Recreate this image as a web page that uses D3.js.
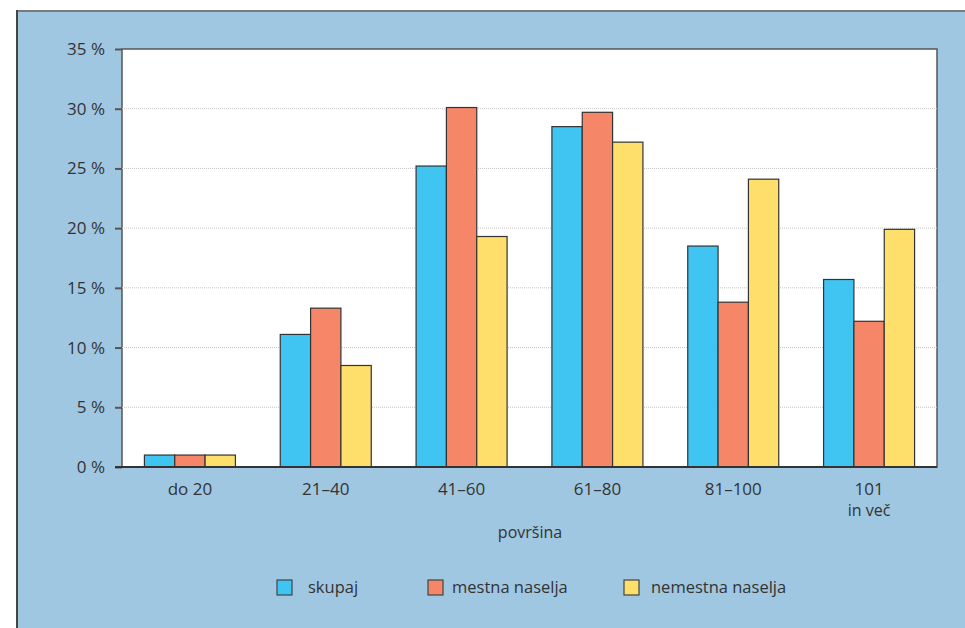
<!DOCTYPE html>
<html>
<head>
<meta charset="utf-8">
<script src="https://cdn.jsdelivr.net/npm/d3@7"></script>
<style>
  body { margin: 0; background: #fff; }
  svg { display: block; }
</style>
</head>
<body>
<div class="chart"></div>
<script>
const categories = ["do 20", "21–40", "41–60", "61–80", "81–100", "101|in več"];
const seriesNames = ["skupaj", "mestna naselja", "nemestna naselja"];
const skupaj = [1.0, 11.1, 25.2, 28.5, 18.5, 15.7];
const mestna = [1.0, 13.3, 30.1, 29.7, 13.8, 12.2];
const nemestna = [1.0, 8.5, 19.3, 27.2, 24.1, 19.9];
const yTicks = [0, 5, 10, 15, 20, 25, 30, 35];

const width = 965,
  height = 628,
  plotLeft = 122,
  plotRight = 937,
  plotTop = 49,
  plotBottom = 467,
  panelColor = "#a0c7e1",
  colors = ["#40c5f2", "#f58668", "#fedf6b"],
  font = "'Open Sans', sans-serif";

const svg = d3
  .select(".chart")
  .append("svg")
  .attr("width", width)
  .attr("height", height);

// blue panel
svg.append("rect")
  .attr("x", 17).attr("y", 11)
  .attr("width", width - 17).attr("height", height - 11)
  .attr("fill", panelColor);
svg.append("line")
  .attr("x1", 17).attr("x2", width).attr("y1", 11).attr("y2", 11)
  .attr("stroke", "#7a7a7a").attr("stroke-width", 2);
svg.append("line")
  .attr("x1", 17).attr("x2", 17).attr("y1", 10).attr("y2", height)
  .attr("stroke", "#444").attr("stroke-width", 2);

// plot background
svg.append("rect")
  .attr("x", plotLeft).attr("y", plotTop)
  .attr("width", plotRight - plotLeft).attr("height", plotBottom - plotTop)
  .attr("fill", "#fff")
  .attr("stroke", "#555").attr("stroke-width", 1.5);

const yScale = d3.scaleLinear().domain([0, 35]).range([plotBottom, plotTop]);

const xScale = d3.scaleBand()
  .domain(categories)
  .range([plotLeft, plotRight])
  .paddingInner(0.33)
  .paddingOuter(0.165);

const xInner = d3.scaleBand()
  .domain(seriesNames)
  .range([0, xScale.bandwidth()]);

// gridlines
svg.append("g")
  .selectAll("line")
  .data(yTicks.filter((d) => d > 0 && d < 35))
  .join("line")
  .attr("x1", plotLeft).attr("x2", plotRight)
  .attr("y1", (d) => yScale(d)).attr("y2", (d) => yScale(d))
  .attr("stroke", "#c4c4c4")
  .attr("stroke-dasharray", "1,1");

// y axis
const yAxis = d3.axisLeft(yScale)
  .tickValues(yTicks)
  .tickSize(7)
  .tickPadding(10)
  .tickFormat((d) => d + " %");

const yG = svg.append("g")
  .attr("transform", `translate(${plotLeft}, 0)`)
  .call(yAxis);
yG.select(".domain").remove();
yG.selectAll("line").attr("stroke", "#555").attr("stroke-width", 2);
yG.selectAll("text")
  .style("font", `17px ${font}`)
  .attr("fill", "#333");

// bars
const allSeries = [skupaj, mestna, nemestna];
allSeries.forEach((values, si) => {
  svg.append("g")
    .selectAll("rect")
    .data(values)
    .join("rect")
    .attr("x", (d, i) => xScale(categories[i]) + xInner(seriesNames[si]))
    .attr("y", (d) => yScale(d))
    .attr("width", xInner.bandwidth())
    .attr("height", (d) => plotBottom - yScale(d))
    .attr("fill", colors[si])
    .attr("stroke", "#333")
    .attr("stroke-width", 1.2);
});

// baseline
svg.append("line")
  .attr("x1", plotLeft - 7).attr("x2", plotRight)
  .attr("y1", plotBottom).attr("y2", plotBottom)
  .attr("stroke", "#333").attr("stroke-width", 2);

// x labels
const xLabels = svg.append("g")
  .selectAll("text")
  .data(categories)
  .join("text")
  .attr("x", (d) => xScale(d) + xScale.bandwidth() / 2)
  .attr("y", 495)
  .attr("text-anchor", "middle")
  .style("font", `17px ${font}`)
  .attr("fill", "#333");
xLabels.each(function (d) {
  const parts = d.split("|");
  const t = d3.select(this);
  parts.forEach((p, i) => {
    t.append("tspan")
      .attr("x", t.attr("x"))
      .attr("dy", i === 0 ? 0 : 21)
      .style("font-size", i === 0 ? "17px" : "16px")
      .text(p);
  });
});

svg.append("text")
  .attr("x", 530).attr("y", 538)
  .attr("text-anchor", "middle")
  .style("font", `16px ${font}`)
  .attr("fill", "#333")
  .text("površina");

// legend
const legendX = [277, 428, 624];
const legendTextX = [31, 24, 27];
const legend = svg.append("g")
  .selectAll("g")
  .data(seriesNames)
  .join("g")
  .attr("transform", (d, i) => `translate(${legendX[i]}, 580)`);
legend.append("rect")
  .attr("width", 15).attr("height", 15)
  .attr("fill", (d, i) => colors[i])
  .attr("stroke", "#444").attr("stroke-width", 1.2);
legend.append("text")
  .attr("x", (d, i) => legendTextX[i])
  .attr("y", 13)
  .style("font", `16.5px ${font}`)
  .attr("fill", "#333")
  .text((d) => d);
</script>
</body>
</html>
